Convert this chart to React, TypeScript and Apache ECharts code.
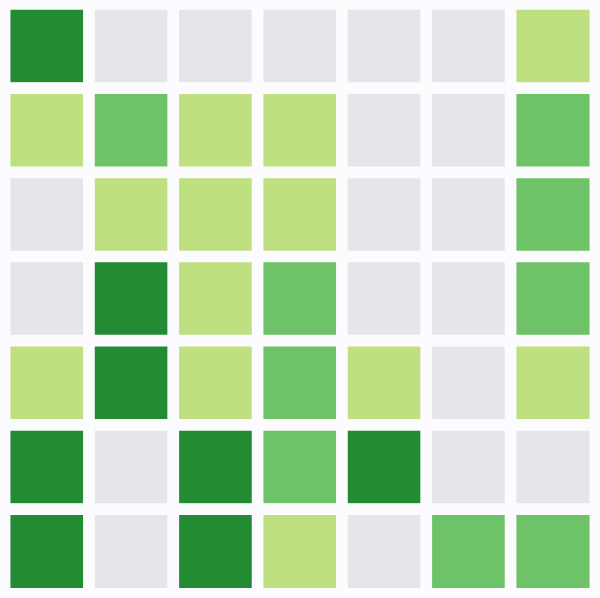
import React, { useEffect, useRef } from "react";
import * as echarts from "echarts";

const columns = ["0", "1", "2", "3", "4", "5", "6"];
const rows = ["0", "1", "2", "3", "4", "5", "6"];
// level per cell, rows top to bottom: 0 empty, 1 light, 2 medium, 3 dark
const levels: number[][] = [
  [3, 0, 0, 0, 0, 0, 1],
  [1, 2, 1, 1, 0, 0, 2],
  [0, 1, 1, 1, 0, 0, 2],
  [0, 3, 1, 2, 0, 0, 2],
  [1, 3, 1, 2, 1, 0, 1],
  [3, 0, 3, 2, 3, 0, 0],
  [3, 0, 3, 1, 0, 2, 2],
];
const levelColors = ["#e5e6ea", "#bfe081", "#6ec267", "#228b34"];
const bg = "#fcfbfd";

export default function App() {
  const ref = useRef<HTMLDivElement>(null);
  useEffect(() => {
    document.body.style.margin = "0";
    document.body.style.background = bg;
    const chart = echarts.init(ref.current!, undefined, { renderer: "svg" });
    const data: any[] = [];
    levels.forEach((row, r) =>
      row.forEach((v, c) => {
        data.push([c, r, v]);
      })
    );
    chart.setOption({
      animation: false,
      backgroundColor: bg,
      grid: { left: 4.85, right: 4.85, top: 4.15, bottom: 4.5, containLabel: false },
      xAxis: { type: "category", data: columns, show: false },
      yAxis: { type: "category", data: rows, inverse: true, show: false },
      visualMap: {
        type: "piecewise",
        show: false,
        dimension: 2,
        pieces: levelColors.map((c, i) => ({ value: i, color: c })),
      },
      graphic: [
        {
          type: "line",
          shape: { x1: 0, y1: 0.5, x2: 600, y2: 0.5 },
          style: { stroke: "#e4e4e6", lineWidth: 2 },
        },
      ],
      series: [
        {
          type: "heatmap",
          data,
          itemStyle: { borderColor: bg, borderWidth: 11.7 },
          emphasis: { disabled: true },
        },
      ],
    });
    return () => chart.dispose();
  }, []);
  return <div ref={ref} style={{ width: 600, height: 598 }} />;
}
